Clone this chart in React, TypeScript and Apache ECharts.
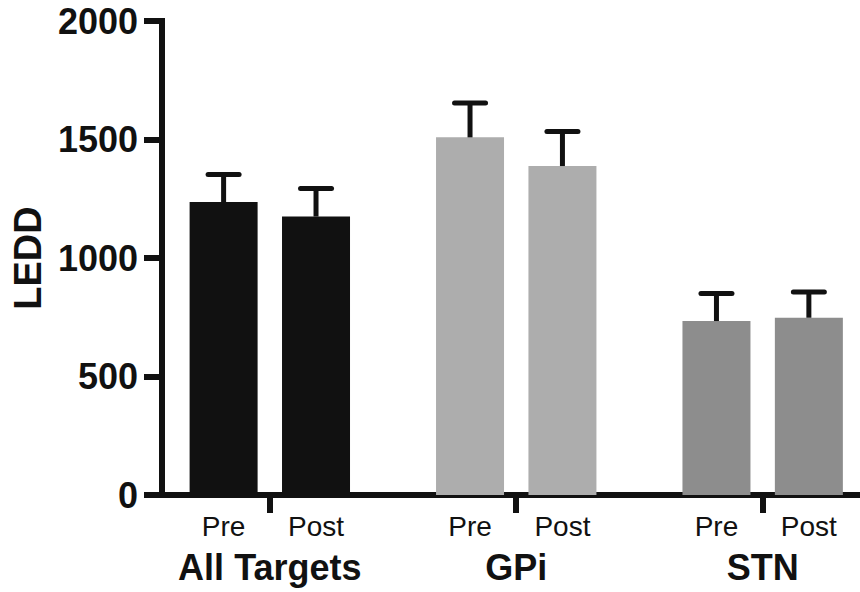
import React, { useEffect, useRef } from 'react';
import * as echarts from 'echarts';

// ---- data ----
const groups = ['All Targets', 'GPi', 'STN'];
const conditions = ['Pre', 'Post'];
const preMeans = [1236, 1509, 734];
const postMeans = [1175, 1388, 748];
const preSEM = [116, 145, 116];
const postSEM = [118, 146, 109];
const groupColors = ['#111111', '#adadad', '#8d8d8d'];
const yMin = 0;
const yMax = 2000;
const yInterval = 500;

// ---- layout (slot units on the hidden value x axis) ----
const GROUP_STEP = 8;
const PAIR_STEP = 3;
const X_MIN = -2;
const X_MAX = 20.66;

const FONT = '"Liberation Sans", Arial, Helvetica, sans-serif';
const INK = '#111111';

export default function App() {
  const ref = useRef<HTMLDivElement>(null);

  useEffect(() => {
    document.body.style.margin = '0';
    const chart = echarts.init(ref.current!, null, { renderer: 'svg' });

    const barPos: number[] = [];
    const barLabels: string[] = [];
    const barData: any[] = [];
    const errData: any[] = [];
    const groupCenters: number[] = [];
    const meansByCond = [preMeans, postMeans];
    const semByCond = [preSEM, postSEM];

    groups.forEach((g, gi) => {
      groupCenters.push(gi * GROUP_STEP + PAIR_STEP / 2);
      conditions.forEach((c, ci) => {
        const x = gi * GROUP_STEP + ci * PAIR_STEP;
        const m = meansByCond[ci][gi];
        const s = semByCond[ci][gi];
        barPos.push(x);
        barLabels.push(c);
        barData.push({ value: [x, m], itemStyle: { color: groupColors[gi] } });
        errData.push([x, m, m + s]);
      });
    });

    chart.setOption({
      animation: false,
      backgroundColor: '#ffffff',
      grid: { left: 162, right: 0, top: 21, bottom: 97, containLabel: false },
      xAxis: [
        {
          type: 'value',
          min: X_MIN,
          max: X_MAX,
          position: 'bottom',
          splitLine: { show: false },
          axisLine: { show: true, onZero: false, lineStyle: { color: INK, width: 6, cap: 'square' } },
          axisTick: {
            show: true,
            customValues: groupCenters,
            length: 18,
            lineStyle: { color: INK, width: 6 },
          },
          axisLabel: {
            show: true,
            customValues: barPos,
            formatter: (v: number) => barLabels[barPos.indexOf(v)] ?? '',
            margin: 17,
            fontSize: 28,
            fontFamily: FONT,
            color: INK,
          },
        },
        {
          type: 'value',
          min: X_MIN,
          max: X_MAX,
          position: 'bottom',
          splitLine: { show: false },
          axisLine: { show: false, onZero: false },
          axisTick: { show: false },
          axisLabel: {
            show: true,
            customValues: groupCenters,
            formatter: (v: number) => groups[groupCenters.indexOf(v)] ?? '',
            margin: 54,
            fontSize: 36,
            fontWeight: 'bold',
            fontFamily: FONT,
            color: INK,
          },
        },
      ],
      yAxis: {
        type: 'value',
        min: yMin,
        max: yMax,
        interval: yInterval,
        name: 'LEDD',
        nameLocation: 'middle',
        nameRotate: 90,
        nameGap: 115,
        nameTextStyle: { fontSize: 38, fontWeight: 'bold', fontFamily: FONT, color: INK },
        splitLine: { show: false },
        axisLine: { show: true, onZero: false, lineStyle: { color: INK, width: 6, cap: 'square' } },
        axisTick: { show: true, length: 18, lineStyle: { color: INK, width: 6 } },
        axisLabel: {
          margin: 24,
          fontSize: 36,
          fontWeight: 'bold',
          fontFamily: FONT,
          color: INK,
          formatter: (v: number) => String(v),
        },
      },
      series: [
        {
          type: 'bar',
          xAxisIndex: 0,
          barWidth: 68,
          data: barData,
          z: 2,
        },
        {
          type: 'custom',
          xAxisIndex: 0,
          z: 3,
          data: errData,
          encode: { x: 0, y: [1, 2] },
          renderItem: (params: any, api: any) => {
            const x = api.value(0);
            const m = api.value(1);
            const t = api.value(2);
            const p0 = api.coord([x, m]);
            const p1 = api.coord([x, t]);
            return {
              type: 'group',
              children: [
                {
                  type: 'line',
                  shape: { x1: p0[0], y1: p0[1], x2: p1[0], y2: p1[1] },
                  style: { stroke: INK, lineWidth: 5 },
                },
                {
                  type: 'line',
                  shape: { x1: p1[0] - 15.5, y1: p1[1], x2: p1[0] + 15.5, y2: p1[1] },
                  style: { stroke: INK, lineWidth: 5, lineCap: 'round' },
                },
              ],
            };
          },
        },
      ],
    });

    return () => chart.dispose();
  }, []);

  return <div ref={ref} style={{ width: 860, height: 592 }} />;
}
